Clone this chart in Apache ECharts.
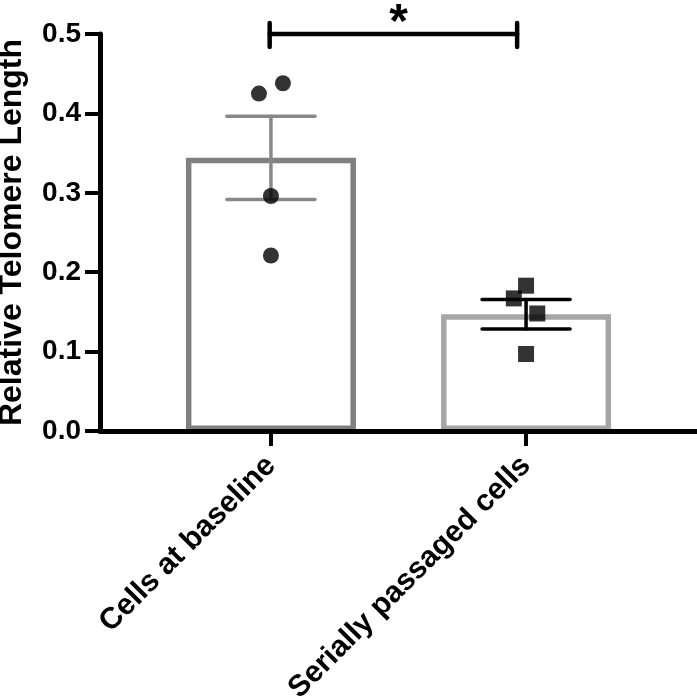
<!DOCTYPE html>
<html>
<head>
<meta charset="utf-8">
<script src="https://cdn.jsdelivr.net/npm/echarts@6/dist/echarts.min.js"></script>
<style>
  html, body { margin: 0; padding: 0; background: #fff; }
  #chart { width: 697px; height: 699px; }
</style>
</head>
<body>
<div id="chart"></div>
<script>
// groups on the x axis (positions 1 and 2)
const categories = ['Cells at baseline', 'Serially passaged cells']
const groupX = [1, 2]
// bar height = mean, error bar = +/- SEM
const means = [0.344, 0.147]
const sems = [0.0525, 0.0185]
// individual samples [x, y]
const baselinePoints = [[0.953, 0.425], [1.047, 0.438], [1.0, 0.296], [1.0, 0.221]]
const passagedPoints = [[2.0, 0.183], [1.952, 0.167], [2.044, 0.148], [2.0, 0.097]]
// significance bracket [fromX, toX, y], star at the middle
const bracket = [[0.995, 1.965, 0.5]]
const starX = 1.5
const yTicks = [0, 0.1, 0.2, 0.3, 0.4, 0.5]

const barColors = ['#808080', '#a6a6a6']
const errColors = ['#888888', '#000000']
const FONT = 'Liberation Sans, Arial, sans-serif'

const chart = echarts.init(document.getElementById('chart'))

const option = {
  backgroundColor: '#fff',
  animation: false,
  grid: { left: 100, right: 0, top: 34, bottom: 268, containLabel: false, outerBoundsMode: 'none' },
  xAxis: {
    type: 'value',
    min: 0.33,
    max: 2.67,
    z: 10,
    splitLine: { show: false },
    axisLine: { onZero: false, lineStyle: { color: '#000', width: 5 } },
    axisTick: {
      customValues: groupX,
      length: 15,
      lineStyle: { color: '#000', width: 4 }
    },
    axisLabel: {
      customValues: groupX,
      rotate: 45,
      margin: 30,
      color: '#000',
      fontSize: 30,
      fontWeight: 'bold',
      fontFamily: FONT,
      formatter: function (v) {
        return categories[groupX.indexOf(Math.round(v))] || ''
      }
    }
  },
  yAxis: {
    type: 'value',
    min: 0,
    max: 0.5,
    interval: 0.1,
    z: 10,
    name: 'Relative Telomere Length',
    nameLocation: 'middle',
    nameGap: 72,
    nameTextStyle: { color: '#000', fontSize: 32, fontWeight: 'bold', fontFamily: FONT },
    splitLine: { show: false },
    axisLine: { show: true, onZero: false, lineStyle: { color: '#000', width: 5 } },
    axisTick: { show: true, length: 15, lineStyle: { color: '#000', width: 4 } },
    axisLabel: {
      margin: 19,
      color: '#000',
      fontSize: 28,
      fontWeight: 'bold',
      fontFamily: FONT,
      customValues: yTicks,
      formatter: function (v) { return v.toFixed(1) }
    }
  },
  series: [
    {
      type: 'bar',
      barWidth: 170,
      z: 2,
      data: means.map(function (m, i) {
        return {
          value: [groupX[i], m],
          itemStyle: { color: '#fff', borderColor: barColors[i], borderWidth: 5.5 }
        }
      })
    },
    {
      type: 'custom',
      z: 3,
      data: means.map(function (m, i) { return [groupX[i], m, sems[i]] }),
      renderItem: function (params, api) {
        const x = api.value(0), m = api.value(1), s = api.value(2)
        const top = api.coord([x, m + s])
        const bot = api.coord([x, m - s])
        const half = 44
        const style = { stroke: errColors[params.dataIndex], lineWidth: 3.5, lineCap: 'round' }
        return {
          type: 'group',
          children: [
            { type: 'line', shape: { x1: top[0], y1: top[1], x2: bot[0], y2: bot[1] }, style: style },
            { type: 'line', shape: { x1: top[0] - half, y1: top[1], x2: top[0] + half, y2: top[1] }, style: style },
            { type: 'line', shape: { x1: bot[0] - half, y1: bot[1], x2: bot[0] + half, y2: bot[1] }, style: style }
          ]
        }
      }
    },
    {
      type: 'scatter',
      z: 4,
      symbol: 'circle',
      symbolSize: 16,
      itemStyle: { color: '#000' },
      data: baselinePoints
    },
    {
      type: 'scatter',
      z: 4,
      symbol: 'rect',
      symbolSize: 16,
      itemStyle: { color: '#000' },
      data: passagedPoints
    },
    {
      type: 'custom',
      z: 5,
      clip: false,
      data: bracket,
      renderItem: function (params, api) {
        const a = api.coord([api.value(0), api.value(2)])
        const b = api.coord([api.value(1), api.value(2)])
        const c = api.coord([starX, api.value(2)])
        const style = { stroke: '#000', lineWidth: 4.5, lineCap: 'round' }
        return {
          type: 'group',
          children: [
            { type: 'line', shape: { x1: a[0], y1: a[1], x2: b[0], y2: b[1] }, style: style },
            { type: 'line', shape: { x1: a[0], y1: a[1] - 11, x2: a[0], y2: a[1] + 13 }, style: style },
            { type: 'line', shape: { x1: b[0], y1: b[1] - 11, x2: b[0], y2: b[1] + 13 }, style: style },
            {
              type: 'text',
              style: {
                text: '*', x: c[0], y: c[1] - 10,
                fill: '#000', font: 'bold 48px ' + FONT,
                align: 'center', verticalAlign: 'middle'
              }
            }
          ]
        }
      }
    }
  ]
}

chart.setOption(option)
</script>
</body>
</html>
